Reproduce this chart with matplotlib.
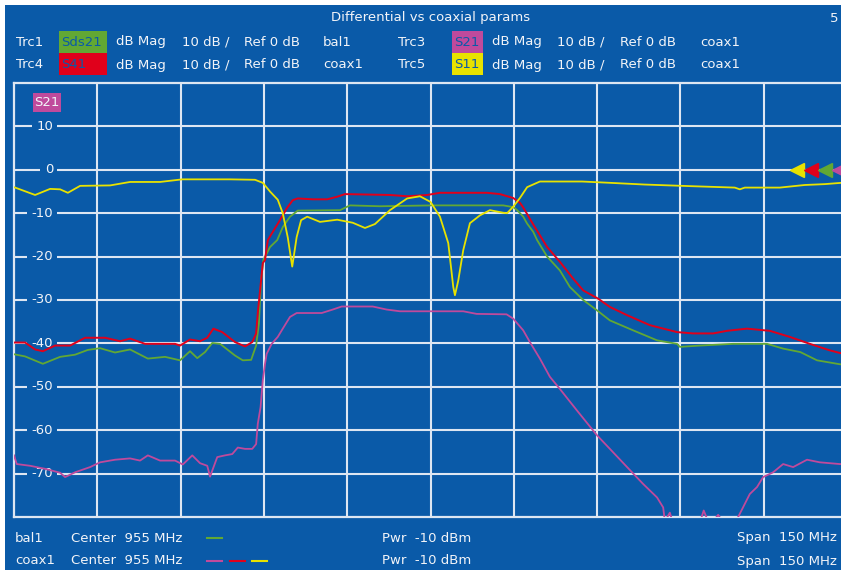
import matplotlib
matplotlib.use("Agg")
import matplotlib.pyplot as plt
from matplotlib.patches import Rectangle
from matplotlib.lines import Line2D
from matplotlib.transforms import blended_transform_factory

W, H = 841, 570
BLUE = "#0a5aa8"
GRID = "#dde6f2"
TXT = "#f2f4f8"
C_GREEN = "#62a834"
C_RED = "#e0001b"
C_YEL = "#e8e200"
C_PUR = "#c04a9c"

f_start, f_stop = 880, 1030
y_top, y_bot = 20, -80
y_ticks = [10, 0, -10, -20, -30, -40, -50, -60, -70]

# Trc5 S11 (coax1)
s11_f = [880.0, 883.8, 886.5, 888.3, 889.7, 891.9, 897.3, 900.9, 906.3, 910.3, 918.9, 923.4,
         924.8, 926.1, 927.5, 928.4, 929.3, 930.1, 930.9, 931.7, 932.8, 935.1, 938.2, 941.0,
         943.2, 945.0, 947.7, 950.8, 953.1, 955.0, 956.7, 958.2, 959.1, 959.4, 960.0, 960.9,
         962.1, 963.9, 965.7, 968.1, 968.8, 969.9, 971.1, 972.4, 974.7, 982.3, 987.3, 993.6,
         1002.6, 1009.8, 1010.7, 1011.6, 1017.9, 1022.4, 1026.0, 1030.0]
s11_db = [-4.0, -5.8, -4.4, -4.5, -5.3, -3.7, -3.6, -2.8, -2.8, -2.2, -2.2, -2.3,
          -3.0, -5.0, -6.9, -10.0, -15.6, -22.3, -15.5, -11.6, -10.8, -12.0, -11.5, -12.2,
          -13.4, -12.5, -9.3, -6.6, -6.1, -7.4, -10.8, -16.9, -27.0, -28.9, -25.5, -18.5,
          -12.3, -10.5, -9.3, -9.9, -10.0, -8.5, -6.5, -4.0, -2.7, -2.7, -3.0, -3.4,
          -3.8, -4.1, -4.5, -4.1, -4.1, -3.5, -3.3, -2.9]

# Trc4 S41 (coax1)
s41_f = [880.0, 882.0, 883.8, 885.2, 887.4, 890.1, 892.8, 896.4, 899.1, 900.9, 903.6, 909.0,
         909.9, 911.7, 913.5, 914.8, 915.9, 917.5, 919.8, 921.6, 922.9, 923.6, 923.9, 924.5,
         924.8, 925.2, 925.7, 926.6, 927.9, 929.1, 930.2, 931.1, 933.8, 936.4, 938.2, 939.6,
         947.7, 950.8, 954.4, 956.7, 965.2, 967.5, 969.9, 971.1, 971.6, 972.4, 973.5, 976.0,
         978.3, 980.7, 982.5, 985.2, 987.3, 990.4, 994.5, 999.4, 1002.3, 1005.9, 1008.4,
         1012.0, 1016.1, 1019.7, 1023.3, 1026.9, 1028.7, 1030.0]
s41_db = [-39.8, -39.8, -41.4, -41.8, -40.5, -40.5, -38.7, -38.7, -39.5, -38.9, -40.1, -40.1,
          -40.5, -39.1, -39.5, -38.7, -36.6, -37.4, -39.7, -40.7, -39.7, -37.7, -33.0, -25.4,
          -21.5, -20.8, -16.2, -14.3, -11.6, -8.9, -7.0, -6.6, -6.8, -6.8, -6.2, -5.6,
          -5.8, -6.1, -5.8, -5.3, -5.3, -5.6, -6.5, -7.6, -8.5, -10.2, -12.6, -17.8,
          -21.2, -25.1, -27.8, -29.7, -31.6, -33.5, -35.8, -37.4, -37.7, -37.7, -37.1,
          -36.6, -37.1, -38.5, -40.1, -41.6, -42.2, -42.5]

# Trc1 Sds21 (bal1)
sds21_f = [880.0, 882.0, 885.2, 888.3, 891.0, 893.3, 895.5, 898.2, 900.9, 904.1, 907.2, 909.9,
           911.7, 913.0, 914.4, 915.7, 917.1, 919.8, 921.2, 922.7, 923.6, 924.1, 924.5, 924.9,
           926.1, 927.4, 928.4, 929.7, 931.1, 938.7, 940.5, 945.9, 955.4, 968.1, 969.9, 970.6,
           971.7, 972.4, 973.5, 974.2, 976.0, 978.3, 980.1, 982.5, 985.0, 987.3, 991.5, 995.8,
           999.4, 999.9, 1003.5, 1009.5, 1015.6, 1018.5, 1021.6, 1024.6, 1028.7, 1030.0]
sds21_db = [-42.5, -43.0, -44.7, -43.1, -42.6, -41.5, -41.1, -42.1, -41.4, -43.5, -43.1, -43.9,
            -41.8, -43.4, -42.0, -39.9, -40.1, -42.8, -43.9, -43.8, -40.5, -35.4, -25.4, -20.8,
            -17.8, -16.2, -13.2, -10.8, -9.4, -9.3, -8.2, -8.4, -8.2, -8.2, -8.6, -9.3,
            -10.8, -12.4, -14.3, -16.2, -20.0, -23.2, -27.0, -30.0, -32.4, -34.7, -37.0, -39.3,
            -40.1, -40.8, -40.5, -40.1, -40.1, -41.2, -42.0, -43.9, -44.8, -45.0]

# Trc3 S21 (coax1)
s21_f = [880.0, 880.5, 882.9, 885.6, 888.3, 889.2, 891.0, 893.7, 895.5, 898.2, 900.9, 902.7,
         904.1, 906.3, 909.0, 910.4, 912.1, 913.5, 914.8, 915.3, 916.6, 918.0, 919.3, 920.3,
         921.6, 922.9, 923.6, 923.9, 924.4, 924.8, 925.2, 925.5, 926.4, 927.5, 928.4, 929.7,
         930.9, 935.4, 937.4, 939.0, 944.6, 947.1, 949.5, 960.9, 963.3, 968.7, 969.9, 971.7,
         972.9, 974.7, 976.5, 978.3, 981.4, 985.0, 987.3, 990.4, 993.3, 995.8, 996.9, 997.2,
         998.1, 998.7, 999.9, 1003.7, 1004.2, 1005.3, 1006.8, 1008.6, 1010.2, 1012.5, 1013.8,
         1014.9, 1016.7, 1018.5, 1020.3, 1022.8, 1025.1, 1028.7, 1030.0]
s21_db = [-65.8, -67.8, -68.2, -68.9, -69.8, -70.8, -69.7, -68.5, -67.4, -66.8, -66.5, -67.0,
          -65.8, -67.0, -67.0, -67.9, -65.8, -67.6, -68.2, -70.7, -66.2, -65.8, -65.5, -64.0,
          -64.3, -64.3, -63.2, -58.5, -54.7, -48.5, -44.7, -42.4, -40.1, -38.5, -36.6, -33.9,
          -33.0, -33.0, -32.2, -31.5, -31.5, -32.2, -32.6, -32.6, -33.2, -33.3, -34.3, -37.0,
          -39.7, -43.5, -47.7, -50.5, -55.5, -61.2, -64.3, -68.5, -72.4, -75.5, -77.8, -81.0,
          -79.0, -81.5, -84.0, -80.5, -78.5, -82.0, -79.5, -83.0, -80.5, -74.7, -73.1,
          -70.8, -69.7, -67.8, -68.5, -66.8, -67.4, -67.8, -67.8]


def px(x, y):
    return x / W, 1 - y / H


fig = plt.figure(figsize=(W / 100, H / 100), dpi=100, facecolor="white")
fig.add_artist(Rectangle((5 / W, 0), 1, 1 - 5 / H, transform=fig.transFigure,
                         facecolor=BLUE, edgecolor="none", zorder=0))

ax = fig.add_axes([14 / W, 1 - 517 / H, 833 / W, 434 / H])
ax.set_facecolor(BLUE)
ax.set_xlim(f_start, f_stop)
ax.set_ylim(y_bot, y_top)
ax.set_xticks([])
ax.set_yticks([])
for s in ax.spines.values():
    s.set_color(GRID)
    s.set_linewidth(1.6)

step = (f_stop - f_start) / 10
for k in range(1, 10):
    ax.axvline(f_start + k * step, color=GRID, lw=1.5, zorder=1)
for v in range(y_bot + 10, y_top, 10):
    ax.axhline(v, color=GRID, lw=1.5, zorder=1)

trans = blended_transform_factory(ax.transAxes, ax.transData)
for v in y_ticks:
    ax.text((53 - 14) / 833, v, str(v), transform=trans, ha="right", va="center",
            color=TXT, fontsize=9.5, zorder=2,
            bbox=dict(facecolor=BLUE, edgecolor="none", pad=3))

ax.plot(s21_f, s21_db, color=C_PUR, lw=1.3, zorder=3)
ax.plot(sds21_f, sds21_db, color=C_GREEN, lw=1.3, zorder=4)
ax.plot(s41_f, s41_db, color=C_RED, lw=1.4, zorder=5)
ax.plot(s11_f, s11_db, color=C_YEL, lw=1.3, zorder=6)

# reference level arrows at right edge
for xp, c in zip([797, 811, 825, 839], [C_YEL, C_RED, C_GREEN, C_PUR]):
    ax.plot([(xp - 14) / 833], [0], marker="<", ms=10, color=c, transform=trans,
            clip_on=False, zorder=7)

# S21 active trace label
fig.add_artist(Rectangle(px(33, 112), 28 / W, 19 / H, transform=fig.transFigure,
                         facecolor=C_PUR, edgecolor="none", zorder=8))
fig.text(*px(47, 102.5), "S21", color=TXT, fontsize=9.5, ha="center", va="center", zorder=9)

# header
fig.text(*px(431, 18), "Differential vs coaxial params", color=TXT, fontsize=9.5,
         ha="center", va="center")
fig.text(*px(830, 18), "5", color=TXT, fontsize=9.5, ha="left", va="center")

rows = [
    (42, "Trc1", "Sds21", C_GREEN, "bal1", 31, "Trc3", "S21", C_PUR, "coax1"),
    (65, "Trc4", "S41", C_RED, "coax1", 53, "Trc5", "S11", C_YEL, "coax1"),
]
for yc, t1, n1, c1, p1, ytop, t2, n2, c2, p2 in rows:
    fig.add_artist(Rectangle(px(59, ytop + 22), 48 / W, 22 / H, transform=fig.transFigure,
                             facecolor=c1, edgecolor="none"))
    fig.add_artist(Rectangle(px(452, ytop + 22), 31 / W, 22 / H, transform=fig.transFigure,
                             facecolor=c2, edgecolor="none"))
    for xx, s, col in [(16, t1, TXT), (61, n1, BLUE), (116, "dB Mag", TXT),
                       (182, "10 dB /", TXT), (244, "Ref 0 dB", TXT), (323, p1, TXT),
                       (398, t2, TXT), (454, n2, BLUE), (492, "dB Mag", TXT),
                       (557, "10 dB /", TXT), (620, "Ref 0 dB", TXT), (700, p2, TXT)]:
        fig.text(*px(xx, yc), s, color=col, fontsize=9.5, ha="left", va="center")

# footer
foot = [(538, "bal1", [C_GREEN]), (561, "coax1", [C_PUR, C_RED, C_YEL])]
for yc, port, cols in foot:
    fig.text(*px(15, yc), port, color=TXT, fontsize=9.5, ha="left", va="center")
    fig.text(*px(71, yc), "Center  955 MHz", color=TXT, fontsize=9.5, ha="left", va="center")
    fig.text(*px(382, yc), "Pwr  -10 dBm", color=TXT, fontsize=9.5, ha="left", va="center")
    fig.text(*px(737, yc), "Span  150 MHz", color=TXT, fontsize=9.5, ha="left", va="center")
    for i, c in enumerate(cols):
        x0 = 207 + i * 22.5
        fig.add_artist(Line2D([x0 / W, (x0 + 15) / W], [1 - yc / H, 1 - yc / H],
                              transform=fig.transFigure, color=c, lw=1.5))

fig.savefig("out.png", dpi=100, facecolor="white")
